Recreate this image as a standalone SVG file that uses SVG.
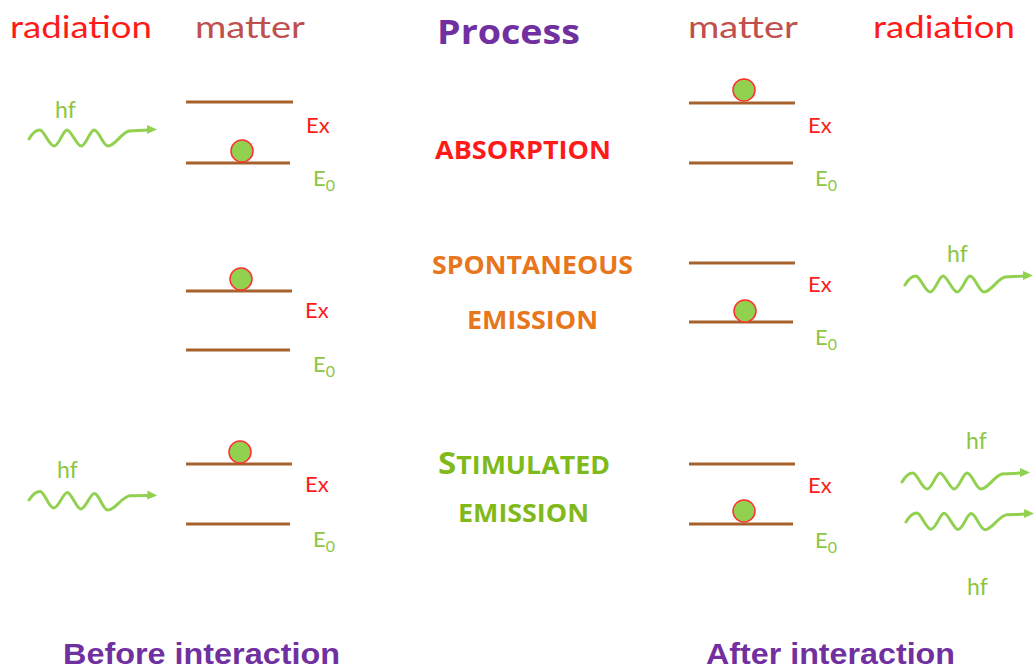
<svg xmlns="http://www.w3.org/2000/svg" xmlns:xlink="http://www.w3.org/1999/xlink" width="1036" height="672" viewBox="0 0 1036 672">
  <style>
    .head { font-family: Lato, "Open Sans", "Liberation Sans", sans-serif; font-size: 31px; }
    .rad { fill: #ff1a1a; }
    .mat { fill: #c0504d; }
    .proc { font-family: "Open Sans", Lato, "Liberation Sans", sans-serif; font-weight: bold; font-size: 34px; fill: #7030a0; }
    .lvl { stroke: #a5622d; stroke-width: 3; fill: none; }
    .ball { fill: #92d050; stroke: #ff3030; stroke-width: 1.5; }
    .ex { font-family: Lato, "Open Sans", "Liberation Sans", sans-serif; font-size: 22px; fill: #ff1a1a; }
    .e0 { font-family: Lato, "Open Sans", "Liberation Sans", sans-serif; font-size: 22px; fill: #8dc63f; }
    .e0 tspan { font-size: 16px; }
    .hf { font-family: Lato, "Open Sans", "Liberation Sans", sans-serif; font-size: 23px; fill: #8cc63f; }
    .wave { stroke: #92d050; stroke-width: 3; fill: none; stroke-linecap: round; stroke-linejoin: round; }
    .tip { fill: #92d050; }
    .cap { font-family: "Open Sans", Lato, "Liberation Sans", sans-serif; font-weight: bold; font-size: 25px; }
    .abs { fill: #ff1a1a; }
    .spon { fill: #e8761c; }
    .stim { fill: #7fba1a; }
    .foot { font-family: "Liberation Sans", Arial, sans-serif; font-weight: bold; font-size: 30px; fill: #7030a0; }
  </style>
  <defs>
    <!-- photon: wavy line ending in an arrowhead, origin at its left end -->
    <g id="photon">
      <path class="wave" d="M0,0 C4,-7 8,-9 11,-9 C15,-9 20,7 25,7 C30,7 34,-9 38,-9 C42,-9 48,7 52,7 C57,7 61,-9 65,-9 C70,-9 74,7 79,7 C86,7 92,-6 100,-8 L120,-9"/>
      <polygon class="tip" points="118,-14 128,-9.5 118,-5"/>
    </g>
    <!-- electron sitting on a level -->
    <circle id="electron" class="ball" r="11"/>
  </defs>

  <!-- column headings -->
  <g id="headings">
    <text class="head rad" x="10" y="38" textLength="142" lengthAdjust="spacingAndGlyphs">radiation</text>
    <text class="head mat" x="195" y="38" textLength="110" lengthAdjust="spacingAndGlyphs">matter</text>
    <text class="proc" x="437" y="44" textLength="143" lengthAdjust="spacingAndGlyphs">Process</text>
    <text class="head mat" x="688" y="38" textLength="110" lengthAdjust="spacingAndGlyphs">matter</text>
    <text class="head rad" x="873" y="38" textLength="142" lengthAdjust="spacingAndGlyphs">radiation</text>
  </g>

  <!-- absorption -->
  <g id="absorption-before">
    <line class="lvl" x1="186" y1="102" x2="293" y2="102"/>
    <line class="lvl" x1="186" y1="163" x2="290" y2="163"/>
    <use xlink:href="#electron" href="#electron" x="242" y="151"/>
    <text class="ex" x="306" y="133">Ex</text>
    <text class="e0" x="313" y="186">E<tspan dy="5">0</tspan></text>
  </g>
  <g id="absorption-photon">
    <text class="hf" x="55" y="118">hf</text>
    <use xlink:href="#photon" href="#photon" transform="translate(29,139)"/>
  </g>
  <g id="absorption-label">
    <text class="cap abs" x="435" y="159" textLength="176" lengthAdjust="spacingAndGlyphs">ABSORPTION</text>
  </g>
  <g id="absorption-after">
    <line class="lvl" x1="689" y1="103" x2="795" y2="103"/>
    <line class="lvl" x1="689" y1="163" x2="793" y2="163"/>
    <use xlink:href="#electron" href="#electron" x="744" y="90"/>
    <text class="ex" x="808" y="133">Ex</text>
    <text class="e0" x="815" y="186">E<tspan dy="5">0</tspan></text>
  </g>

  <!-- spontaneous emission -->
  <g id="spontaneous-before">
    <line class="lvl" x1="186" y1="291" x2="292" y2="291"/>
    <line class="lvl" x1="186" y1="350" x2="290" y2="350"/>
    <use xlink:href="#electron" href="#electron" x="241" y="279"/>
    <text class="ex" x="305" y="318">Ex</text>
    <text class="e0" x="313" y="372">E<tspan dy="5">0</tspan></text>
  </g>
  <g id="spontaneous-label">
    <text class="cap spon" x="432" y="274" textLength="201" lengthAdjust="spacingAndGlyphs">SPONTANEOUS</text>
    <text class="cap spon" x="467" y="329" textLength="131" lengthAdjust="spacingAndGlyphs">EMISSION</text>
  </g>
  <g id="spontaneous-after">
    <line class="lvl" x1="689" y1="263" x2="795" y2="263"/>
    <line class="lvl" x1="689" y1="322" x2="793" y2="322"/>
    <use xlink:href="#electron" href="#electron" x="745" y="311"/>
    <text class="ex" x="808" y="292">Ex</text>
    <text class="e0" x="815" y="345">E<tspan dy="5">0</tspan></text>
  </g>
  <g id="spontaneous-photon">
    <text class="hf" x="947" y="262">hf</text>
    <use xlink:href="#photon" href="#photon" transform="translate(905,285)"/>
  </g>

  <!-- stimulated emission -->
  <g id="stimulated-photon-in">
    <text class="hf" x="57" y="478">hf</text>
    <use xlink:href="#photon" href="#photon" transform="translate(29,500) rotate(2.2)"/>
  </g>
  <g id="stimulated-before">
    <line class="lvl" x1="186" y1="464" x2="292" y2="464"/>
    <line class="lvl" x1="186" y1="524" x2="290" y2="524"/>
    <use xlink:href="#electron" href="#electron" x="240" y="452"/>
    <text class="ex" x="305" y="492">Ex</text>
    <text class="e0" x="313" y="547">E<tspan dy="5">0</tspan></text>
  </g>
  <g id="stimulated-label">
    <text class="cap stim" x="438" y="474" textLength="172" lengthAdjust="spacingAndGlyphs"><tspan font-size="31">S</tspan>TIMULATED</text>
    <text class="cap stim" x="458" y="522" textLength="131" lengthAdjust="spacingAndGlyphs">EMISSION</text>
  </g>
  <g id="stimulated-after">
    <line class="lvl" x1="689" y1="464" x2="795" y2="464"/>
    <line class="lvl" x1="689" y1="524" x2="793" y2="524"/>
    <use xlink:href="#electron" href="#electron" x="744" y="511"/>
    <text class="ex" x="808" y="493">Ex</text>
    <text class="e0" x="815" y="548">E<tspan dy="5">0</tspan></text>
  </g>
  <g id="stimulated-photons-out">
    <text class="hf" x="966" y="449">hf</text>
    <use xlink:href="#photon" href="#photon" transform="translate(902,482)"/>
    <use xlink:href="#photon" href="#photon" transform="translate(906,522) rotate(0.5)"/>
    <text class="hf" x="967" y="595">hf</text>
  </g>

  <!-- footer captions -->
  <g id="footer">
    <text class="foot" x="63" y="664" textLength="277" lengthAdjust="spacingAndGlyphs">Before interaction</text>
    <text class="foot" x="706" y="664" textLength="249" lengthAdjust="spacingAndGlyphs">After interaction</text>
  </g>
</svg>
